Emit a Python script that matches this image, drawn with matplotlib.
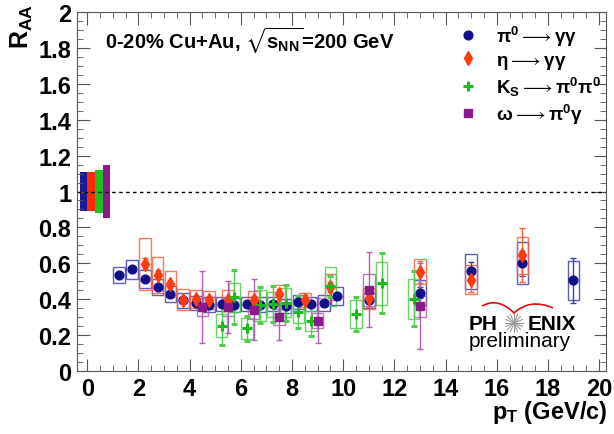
import numpy as np
import matplotlib.pyplot as plt
from matplotlib.lines import Line2D
from matplotlib.path import Path
from matplotlib.patches import PathPatch
from matplotlib.ticker import MultipleLocator

plt.rcParams['font.family'] = ['Liberation Sans', 'DejaVu Sans']
plt.rcParams['mathtext.fontset'] = 'custom'
plt.rcParams['mathtext.rm'] = 'Liberation Sans:bold'
plt.rcParams['mathtext.it'] = 'Liberation Sans:bold'
plt.rcParams['mathtext.bf'] = 'Liberation Sans:bold'
plt.rcParams['mathtext.default'] = 'rm'
plt.rcParams['mathtext.fallback'] = 'stixsans'

# pi0 -> gamma gamma
pi0_pt = [1.25, 1.75, 2.25, 2.75, 3.25, 3.75, 4.25, 4.75, 5.25, 5.75, 6.25, 6.75,
          7.25, 7.75, 8.25, 8.75, 9.25, 9.75, 11, 13, 15, 17, 19]
pi0_raa = [0.535, 0.568, 0.515, 0.468, 0.430, 0.395, 0.380, 0.370, 0.374, 0.369, 0.374, 0.370,
           0.374, 0.361, 0.383, 0.374, 0.380, 0.417, 0.393, 0.436, 0.555, 0.600, 0.505]
pi0_stat = [0.005, 0.005, 0.005, 0.005, 0.005, 0.005, 0.005, 0.005, 0.006, 0.006, 0.007, 0.007,
            0.008, 0.009, 0.010, 0.011, 0.012, 0.013, 0.02, 0.03, 0.05, 0.07, 0.125]
pi0_sys = [0.047, 0.053, 0.05, 0.047, 0.045, 0.042, 0.04, 0.04, 0.04, 0.04, 0.04, 0.04,
           0.04, 0.04, 0.04, 0.04, 0.045, 0.05, 0.04, 0.07, 0.098, 0.117, 0.109]

# eta -> gamma gamma
eta_pt = [2.25, 2.75, 3.25, 3.75, 4.25, 4.75, 5.5, 6.5, 7.5, 8.5, 9.5, 11, 13, 15, 17]
eta_raa = [0.598, 0.536, 0.484, 0.398, 0.400, 0.397, 0.393, 0.398, 0.428, 0.397, 0.468,
           0.405, 0.553, 0.508, 0.644]
eta_stat = [0.03, 0.025, 0.02, 0.015, 0.015, 0.02, 0.02, 0.02, 0.03, 0.025, 0.03,
            0.05, 0.06, 0.07, 0.15]
eta_sys = [0.145, 0.10, 0.073, 0.06, 0.05, 0.05, 0.056, 0.05, 0.05, 0.04, 0.07,
           0.06, 0.07, 0.08, 0.104]

# K_S -> pi0 pi0
ks_pt = [5.25, 5.75, 6.25, 6.75, 7.25, 7.75, 8.25, 8.75, 9.5, 10.5, 11.5, 12.75]
ks_raa = [0.253, 0.410, 0.237, 0.366, 0.372, 0.380, 0.327, 0.279, 0.472, 0.318, 0.490, 0.402]
ks_stat = [0.11, 0.15, 0.07, 0.10, 0.10, 0.10, 0.09, 0.085, 0.06, 0.094, 0.168, 0.153]
ks_sys = [0.065, 0.08, 0.06, 0.088, 0.07, 0.08, 0.06, 0.058, 0.11, 0.08, 0.12, 0.11]

# omega -> pi0 gamma
omega_pt = [4.5, 5.5, 6.5, 7.5, 9.0, 11.0, 13.0]
omega_raa = [0.356, 0.356, 0.342, 0.300, 0.281, 0.453, 0.361]
omega_stat = [0.20, 0.145, 0.17, 0.13, 0.125, 0.21, 0.24]
omega_sys = [0.05, 0.05, 0.05, 0.045, 0.04, 0.09, 0.058]

# global normalisation uncertainties drawn at R_AA = 1
norm_err = [0.108, 0.108, 0.118, 0.145]

arrow = r"$\longrightarrow$"
species = [
    # label, pt, raa, stat, sys, marker colour, box colour, marker, size, edge width
    ("π$^0$" + arrow + "γγ", pi0_pt, pi0_raa, pi0_stat, pi0_sys,
     "#10108a", "#4040b0", "o", 6.3, 1.0),
    ("η" + arrow + "γγ", eta_pt, eta_raa, eta_stat, eta_sys,
     "#ff3c10", "#ff6040", "d", 7.5, 1.0),
    ("K$_S$" + arrow + "π$^0$π$^0$", ks_pt, ks_raa, ks_stat, ks_sys,
     "#1cb81c", "#50cc50", "+", 7, 2.2),
    ("ω" + arrow + "π$^0$γ", omega_pt, omega_raa, omega_stat, omega_sys,
     "#8a1a8a", "#b060b0", "s", 5.3, 1.0),
]

fig = plt.figure(figsize=(6.14, 4.35), dpi=100)
ax = fig.add_axes([77 / 614, 1 - 372 / 435, 529 / 614, 359 / 435])

# normalisation boxes next to the y axis
norm_x = -0.15 + 0.3 * np.arange(len(norm_err))
norm_col = ["#1a1a99", "#ff2a00", "#22bb22", "#8b1a8b"]
ax.bar(norm_x, 2 * np.asarray(norm_err), width=0.3, bottom=1 - np.asarray(norm_err),
       color=norm_col, linewidth=0, zorder=1)
ax.axhline(1.0, color="k", lw=1.0, ls=(0, (2.5, 2.5)), zorder=2)

handles = []
for label, pt, raa, stat, sys, col, bcol, mk, ms, mew in species:
    raa = np.asarray(raa)
    sys = np.asarray(sys)
    ax.bar(pt, 2 * sys, width=0.45, bottom=raa - sys, fill=False,
           edgecolor=bcol, linewidth=1.0, alpha=0.85, zorder=3)
    ax.errorbar(pt, raa, yerr=stat, fmt=mk, color=col, ms=ms, mew=mew,
                ecolor=bcol, elinewidth=1.0, capsize=2, zorder=4)
    handles.append(Line2D([], [], ls="none", marker=mk, color=col, ms=ms, mew=mew))

ax.set_xlim(-0.4, 20.27)
ax.set_ylim(0, 2)
ax.xaxis.set_major_locator(MultipleLocator(2))
ax.xaxis.set_minor_locator(MultipleLocator(0.5))
ax.yaxis.set_major_locator(MultipleLocator(0.2))
ax.yaxis.set_minor_locator(MultipleLocator(0.05))
ax.set_yticklabels([f"{v:g}" for v in ax.get_yticks()])
ax.tick_params(which="both", direction="in", top=True, right=True, color="#555555")
ax.tick_params(which="major", length=9, labelsize=17, pad=4)
ax.tick_params(which="minor", length=4.5)
for lab in ax.get_xticklabels() + ax.get_yticklabels():
    lab.set_fontweight("bold")
for sp in ax.spines.values():
    sp.set_color("#555555")

fig.text(22 / 614, 1 - 4 / 435, "R$_{AA}$", rotation=90, ha="center", va="top",
         fontsize=18, fontweight="bold")
fig.text(608 / 614, 1 - 413 / 435, "p$_T$ (GeV/c)", ha="right", va="center",
         fontsize=17, fontweight="bold")

ax.text(0.053, 0.925, "0-20% Cu+Au, $\\sqrt{s_{NN}}$=200 GeV", transform=ax.transAxes,
        ha="left", va="center", fontsize=14.5, fontweight="bold")

leg = ax.legend(handles, [s[0] for s in species], loc="upper left",
                bbox_to_anchor=(0.70, 0.993), frameon=False, handlelength=1.2,
                handletextpad=0.9, labelspacing=0.2, borderpad=0,
                prop={"size": 13.5, "weight": "bold"})

# PHENIX preliminary logo
sx, sy = 1 / 529, 1 / 359
cx, cy = (514 - 77) * sx, (372 - 324) * sy
ax.text(cx - 17 * sx, cy, "PH", transform=ax.transAxes, ha="right", va="center",
        fontsize=15, fontweight="bold")
ax.text(cx + 14 * sx, cy, "ENIX", transform=ax.transAxes, ha="left", va="center",
        fontsize=15, fontweight="bold")
for a in np.linspace(0, np.pi, 9)[:-1]:
    dx, dy = np.cos(a) * 9 * sx, np.sin(a) * 9 * sy
    ax.plot([cx - dx, cx + dx], [cy - dy, cy + dy], color="#999999", lw=0.8,
            transform=ax.transAxes, zorder=5)
ax.text(cx + 6 * sx, (372 - 347) * sy, "preliminary", transform=ax.transAxes,
        ha="center", va="baseline", fontsize=15)
wing = Path([((482 - 77) * sx, (372 - 307) * sy), ((498 - 77) * sx, (372 - 298) * sy),
             (cx, (372 - 314) * sy), ((530 - 77) * sx, (372 - 299) * sy),
             ((553 - 77) * sx, (372 - 309) * sy)],
            [Path.MOVETO, Path.CURVE3, Path.CURVE3, Path.CURVE3, Path.CURVE3])
ax.add_patch(PathPatch(wing, fill=False, edgecolor="#e01010", lw=1.2,
                       transform=ax.transAxes, zorder=5))

fig.savefig("out.png", dpi=100)
